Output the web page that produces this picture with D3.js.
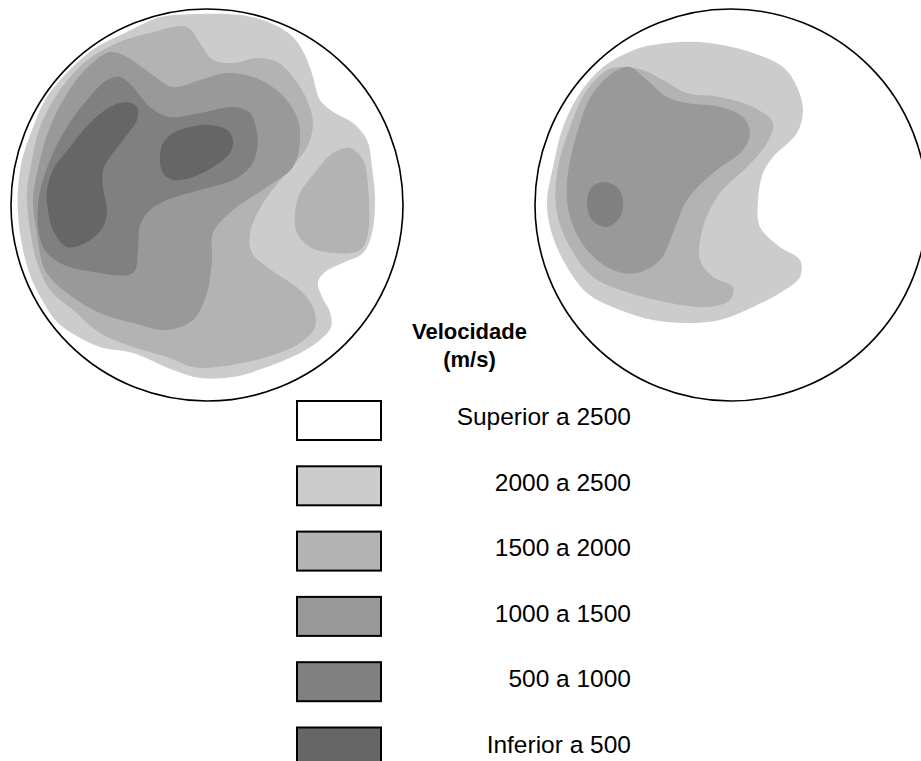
<!DOCTYPE html>
<html>
<head>
<meta charset="utf-8">
<script src="https://cdn.jsdelivr.net/npm/d3@7"></script>
<style>
  html, body { margin: 0; padding: 0; background: #ffffff; }
  svg { display: block; }
</style>
</head>
<body>
<svg id="chart" width="921" height="761"></svg>
<script>
// ---------- DATA ----------
// Velocity classes (legend), from highest to lowest
const classLabels = ["Superior a 2500", "2000 a 2500", "1500 a 2000", "1000 a 1500", "500 a 1000", "Inferior a 500"];
// Isoline levels (m/s); region inside an isoline has velocity below the level
const levels = [2500, 2000, 1500, 1000, 500];
const legendTitle = ["Velocidade", "(m/s)"];

// Isolines, in cm within each cross-section (disk diameter 39.2 cm, origin top-left)
// Disk 1 (left)
const d1_2500 = [[14.9,0.8],[18.9,0.5],[23.6,0.7],[26.4,1.6],[28.2,2.8],[29.4,4.6],[30.2,6.8],[30.9,9.1],[32.4,10.4],[34.2,11.4],[35.6,13.1],[36.1,15.8],[36.4,19.1],[36.1,22.4],[35.2,24.4],[33.4,25.3],[31.4,26.3],[30.7,27.3],[31.1,28.8],[31.9,30.3],[32.0,31.8],[30.9,33.1],[28.9,34.4],[25.6,35.8],[22.2,36.8],[18.9,36.9],[16.2,36.1],[12.2,34.4],[8.9,33.8],[6.4,32.6],[4.6,31.3],[3.1,29.1],[1.9,26.6],[1.1,23.6],[0.7,20.6],[0.7,18.1],[1.1,15.1],[2.1,12.1],[3.4,9.1],[5.1,6.9],[6.9,5.1],[8.9,3.6],[11.4,2.4],[13.4,1.4]];
const d1_2000a = [[10.6,3.4],[13.9,2.4],[17.6,1.8],[18.9,3.4],[20.2,5.1],[22.2,5.4],[24.6,4.9],[26.6,5.3],[28.2,6.8],[29.6,9.1],[30.2,11.4],[29.6,13.8],[27.2,16.8],[25.2,19.4],[23.9,22.4],[24.1,24.4],[25.6,25.8],[28.9,28.1],[30.2,29.8],[30.4,31.8],[28.9,33.4],[25.6,34.8],[20.6,35.8],[18.2,35.8],[15.6,34.8],[12.2,33.8],[8.9,32.4],[6.2,30.1],[3.9,28.1],[2.7,25.6],[1.9,22.1],[1.6,18.4],[2.1,15.1],[2.9,11.8],[4.7,8.4],[7.4,5.3]];
const d1_2000b = [[33.9,13.9],[35.2,15.1],[35.7,17.8],[35.7,22.4],[34.9,24.1],[32.2,24.4],[29.9,23.8],[28.6,22.4],[28.4,20.4],[28.9,18.4],[30.6,16.1],[32.2,14.4]];
const d1_1500 = [[9.9,4.3],[11.6,4.8],[13.9,6.4],[16.2,7.8],[18.9,7.1],[21.6,6.4],[24.2,6.8],[26.9,8.4],[28.6,10.8],[28.9,13.1],[28.2,15.8],[25.6,17.8],[22.2,20.1],[20.2,22.4],[20.1,25.1],[19.6,28.4],[18.2,31.1],[15.6,32.1],[12.2,31.4],[8.9,30.4],[5.6,28.4],[3.4,26.1],[2.6,22.4],[2.2,19.1],[2.9,15.1],[3.9,11.8],[5.4,8.8],[7.4,6.1]];
const d1_1000 = [[2.7,19.6],[3.2,23.8],[4.9,25.4],[8.2,26.3],[12.2,26.4],[12.7,24.1],[12.9,21.6],[13.9,20.1],[15.6,19.1],[18.9,18.1],[22.2,17.1],[23.9,15.8],[24.6,14.1],[24.6,12.4],[23.9,10.4],[22.2,9.8],[18.9,10.4],[15.9,10.8],[13.9,9.8],[12.2,7.8],[10.9,6.8],[9.6,7.1],[7.6,9.1],[5.6,11.8],[3.9,15.1]];
const d1_500a = [[3.6,19.4],[4.2,22.1],[5.6,23.8],[7.6,23.3],[9.2,21.8],[9.6,20.1],[9.2,17.8],[9.2,16.1],[9.9,14.8],[11.2,13.1],[12.6,11.1],[12.6,9.8],[11.6,9.3],[9.9,9.8],[7.9,11.4],[5.9,13.8],[4.2,16.1],[3.6,18.1]];
const d1_500b = [[14.9,14.8],[15.2,16.4],[16.2,17.1],[18.2,16.8],[20.2,15.8],[21.9,14.4],[22.2,13.1],[21.6,12.1],[19.9,11.6],[17.9,11.8],[16.2,12.4],[15.2,13.4]];
// Disk 2 (right)
const d2_2500 = [[10.8,3.8],[14.5,3.3],[17.5,3.4],[21.8,4.4],[24.8,5.8],[26.2,7.8],[26.8,10.1],[26.2,12.4],[23.8,14.8],[22.8,16.4],[22.3,19.1],[22.5,21.8],[24.5,23.8],[26.5,25.1],[26.5,26.8],[24.5,28.4],[21.8,29.8],[18.5,31.1],[15.2,31.4],[11.8,31.1],[8.5,30.1],[5.2,28.4],[2.8,25.1],[1.5,21.8],[1.2,19.1],[1.8,15.8],[2.8,11.8],[4.5,8.4],[6.8,5.8],[9.2,4.4]];
const d2_2000 = [[8.5,5.8],[10.8,6.1],[12.8,7.1],[15.2,8.4],[18.5,8.8],[21.8,9.8],[23.8,11.4],[23.2,13.4],[21.2,15.8],[18.5,18.4],[16.8,21.8],[16.5,25.1],[17.8,26.8],[19.8,27.8],[19.5,29.1],[17.2,29.8],[13.5,29.4],[9.5,28.4],[5.8,26.8],[3.5,23.8],[2.2,20.4],[2.2,16.4],[3.5,11.8],[5.2,8.1],[7.2,6.1]];
const d2_1500 = [[9.5,5.8],[11.2,7.1],[13.2,8.8],[15.2,9.4],[18.5,9.8],[20.8,10.8],[21.5,12.4],[20.8,14.1],[17.8,16.4],[15.2,19.1],[13.8,22.4],[12.5,25.1],[10.2,26.4],[7.8,26.1],[5.2,24.1],[3.5,20.8],[3.2,17.4],[4.2,12.4],[5.8,8.4],[8.2,6.1]];
const d2_1000 = [[5.2,19.1],[5.7,21.1],[7.2,21.8],[8.5,20.8],[8.8,19.1],[8.2,17.8],[6.8,17.3],[5.7,17.8]];

const isolines = [
  { disk: 0, level: 2500, pts: d1_2500 },
  { disk: 0, level: 2000, pts: d1_2000a },
  { disk: 0, level: 2000, pts: d1_2000b },
  { disk: 0, level: 1500, pts: d1_1500 },
  { disk: 0, level: 1000, pts: d1_1000 },
  { disk: 0, level: 500,  pts: d1_500a },
  { disk: 0, level: 500,  pts: d1_500b },
  { disk: 1, level: 2500, pts: d2_2500 },
  { disk: 1, level: 2000, pts: d2_2000 },
  { disk: 1, level: 1500, pts: d2_1500 },
  { disk: 1, level: 1000, pts: d2_1000 }
];

// ---------- STYLE / LAYOUT ----------
const classColors = ["#ffffff", "#cccccc", "#b3b3b3", "#999999", "#808080", "#666666"];
const diskDiameterCm = 39.2;
const disks = [
  { cx: 207, cy: 205, r: 196 },
  { cx: 731, cy: 205, r: 196 }
];

const svg = d3.select("#chart");
const fillForLevel = d3.scaleOrdinal().domain(levels).range(classColors.slice(1));

disks.forEach((dk, i) => {
  dk.x = d3.scaleLinear().domain([0, diskDiameterCm]).range([dk.cx - dk.r, dk.cx + dk.r]);
  dk.y = d3.scaleLinear().domain([0, diskDiameterCm]).range([dk.cy - dk.r, dk.cy + dk.r]);
  svg.append("defs").append("clipPath").attr("id", "clip" + i)
    .append("circle").attr("cx", dk.cx).attr("cy", dk.cy).attr("r", dk.r);
});

const gDisks = disks.map((dk, i) => svg.append("g").attr("clip-path", `url(#clip${i})`));

// painter's order: highest level first
const sorted = isolines.slice().sort((a, b) => b.level - a.level);
sorted.forEach(iso => {
  const dk = disks[iso.disk];
  const line = d3.line()
    .x(d => dk.x(d[0]))
    .y(d => dk.y(d[1]))
    .curve(d3.curveCatmullRomClosed.alpha(0.5));
  gDisks[iso.disk].append("path")
    .attr("d", line(iso.pts))
    .attr("fill", fillForLevel(iso.level))
    .attr("stroke", "none");
});

disks.forEach(dk => {
  svg.append("circle")
    .attr("cx", dk.cx).attr("cy", dk.cy).attr("r", dk.r)
    .attr("fill", "none").attr("stroke", "#000").attr("stroke-width", 1.6);
});

// ---------- LEGEND ----------
const legend = svg.append("g");
legend.selectAll("text.title").data(legendTitle).join("text")
  .attr("class", "title")
  .attr("x", 469.5)
  .attr("y", (d, i) => 339 + i * 28)
  .attr("text-anchor", "middle")
  .attr("font-family", "Liberation Sans, Arial, sans-serif")
  .attr("font-weight", "bold")
  .attr("font-size", 22)
  .text(d => d);

const rowY = d3.scaleLinear().domain([0, 1]).range([0, 65.3]);
legend.selectAll("rect.box").data(classLabels).join("rect")
  .attr("class", "box")
  .attr("x", 297).attr("y", (d, i) => 401 + rowY(i))
  .attr("width", 84).attr("height", 39)
  .attr("fill", (d, i) => classColors[i])
  .attr("stroke", "#000").attr("stroke-width", 2);

legend.selectAll("text.lbl").data(classLabels).join("text")
  .attr("class", "lbl")
  .attr("x", 631)
  .attr("y", (d, i) => 425 + i * 65.6)
  .attr("text-anchor", "end")
  .attr("font-family", "Liberation Sans, Arial, sans-serif")
  .attr("font-size", 24.5)
  .attr("fill", "#000")
  .text(d => d);
</script>
</body>
</html>
